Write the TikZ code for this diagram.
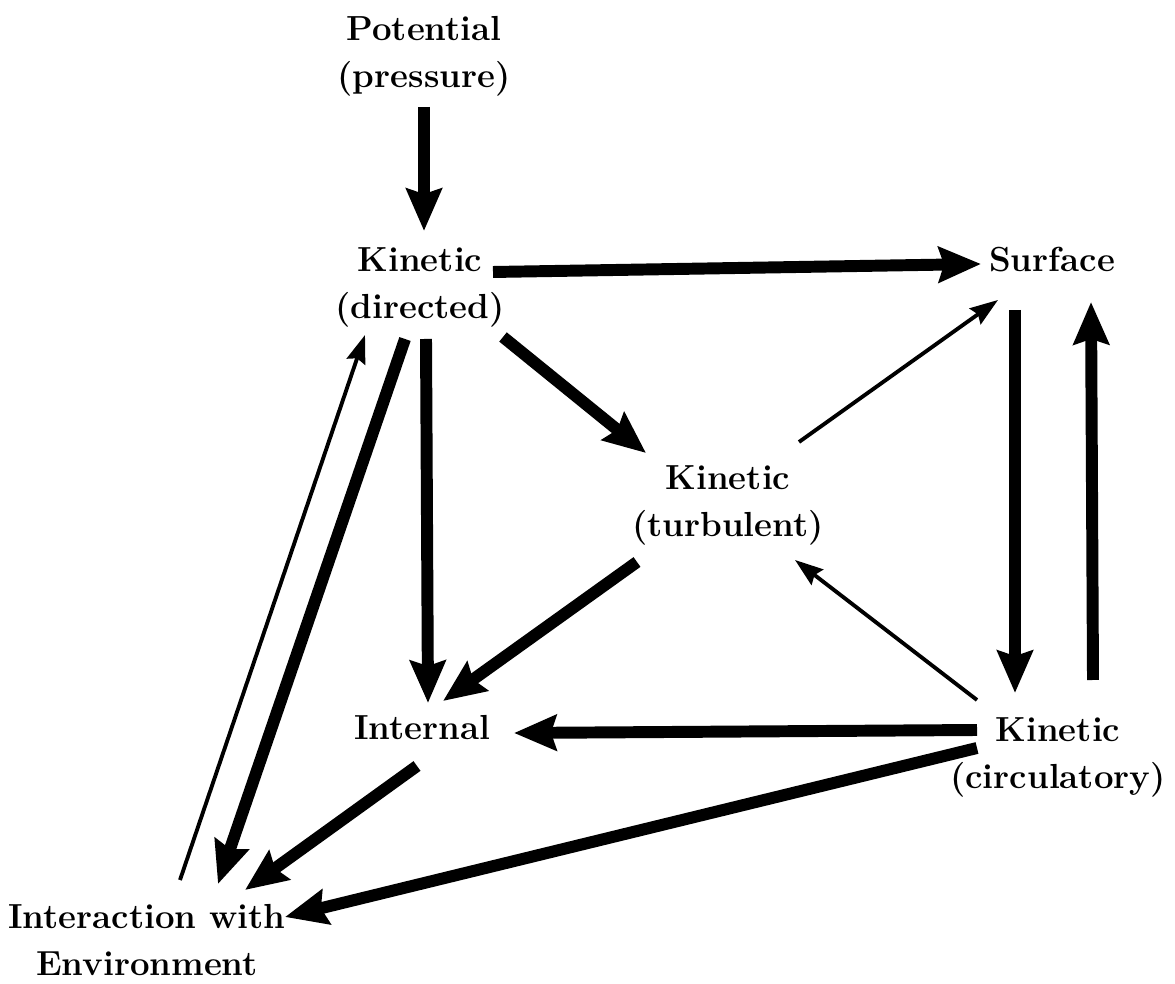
\documentclass[tikz,border=0pt]{standalone}
\usepackage{tikz}
\usetikzlibrary{arrows.meta,calc}

\begin{document}
\begin{tikzpicture}[x=0.02cm,y=0.02cm,
    box/.style={align=center,font=\fontsize{19.8}{26.7}\selectfont\bfseries},
    big/.style={line width=6.8pt,-{Stealth[length=24pt,width=20pt,inset=3pt]}},
    small/.style={line width=2.2pt,-{Stealth[length=16pt,width=11pt,inset=2pt]}}]
    \useasboundingbox (0,0) rectangle (1175,983);
    % energy forms
    \node[box] (pot) at (424,927) {Potential\\(pressure)};
    \node[box] (kdir) at (420,696) {Kinetic\\(directed)};
    \node[box] (surf) at (1052,723) {Surface};
    \node[box] (kturb) at (728,478) {Kinetic\\(turbulent)};
    \node[box] (int) at (422,255) {Internal};
    \node[box] (kcirc) at (1058,226) {Kinetic\\(circulatory)};
    \node[box] (env) at (147,43) {Interaction with\\Environment};
    % heavy transfers
    \foreach \s/\sx/\sy/\e/\ex/\ey in {pot/0/-51/kdir/4/56, kdir/73/15/surf/-71/-4,
            kdir/83/-50/kturb/-82/52, kdir/6/-52/int/6/25, kdir/-15/-52/env/71/56,
            kturb/-91/-57/int/21/27, surf/-37/-50/kcirc/-43/64, kcirc/35/77/surf/39/-42,
            kcirc/-81/27/int/92/-5, kcirc/-81/9/env/138/23, int/-5/-38/env/98/50} {
        \draw[big] ($(\s)+(\sx,\sy)$) -- ($(\e)+(\ex,\ey)$);
    }
    % light transfers
    \foreach \s/\sx/\sy/\e/\ex/\ey in {env/33/60/kdir/-55/-48, kturb/71/63/surf/-54/-40,
            kcirc/-81/57/kturb/67/-55} {
        \draw[small] ($(\s)+(\sx,\sy)$) -- ($(\e)+(\ex,\ey)$);
    }
\end{tikzpicture}
\end{document}
